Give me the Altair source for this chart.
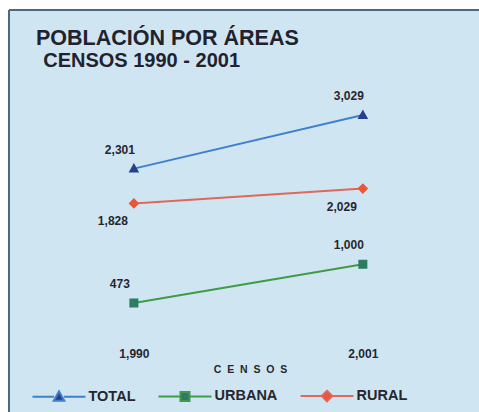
import altair as alt
import pandas as pd

# ---- data ----
censos = [1990, 2001]
areas = ["TOTAL", "URBANA", "RURAL"]
total = [2301, 3029]
urbana = [473, 1000]
rural = [1828, 2029]

# ---- styling ----
line_colors = ["#3f80cc", "#3f9b48", "#e0675a"]
marker_colors = ["#26408c", "#2d7b62", "#ec5535"]
marker_paths = [
    "M-1,0H-0.19M0.19,0H1M0,-0.21L0.2,0.15L-0.2,0.15Z",
    "M-1,0H-0.17M0.17,0H1M-0.17,-0.17H0.17V0.17H-0.17Z",
    "M-1,0H-0.2M0.2,0H1M0,-0.2L0.2,0L0,0.2L-0.2,0Z",
]
FONT = "Liberation Sans"
TXT = "#26262f"
BORDER = "#4d6a85"

rows = []
for area, vals in zip(areas, [total, urbana, rural]):
    for c, v in zip(censos, vals):
        rows.append({"Área": area, "Censo": c, "Valor": v})
df = pd.DataFrame(rows)

x = alt.X(
    "Censo:Q",
    scale=alt.Scale(domain=[1984, 2006.58], nice=False, zero=False),
    axis=alt.Axis(
        values=censos, labelExpr="format(datum.value, ',')",
        orient="bottom", offset=-70,
        domain=False, ticks=False, grid=False,
        labelFont=FONT, labelFontSize=12, labelFontWeight="bold",
        labelColor=TXT, labelPadding=6, labelFlush=False,
        title="C\u00a0\u00a0E\u00a0\u00a0N\u00a0\u00a0S\u00a0\u00a0O\u00a0\u00a0S",
        titleFont=FONT, titleFontSize=10.5, titleFontWeight="bold",
        titleColor=TXT, titleX=241, titleY=27, titleBaseline="middle",
        titleAlign="center",
    ),
)
y = alt.Y(
    "Valor:Q",
    scale=alt.Scale(domain=[-1009, 4458], nice=False, zero=False),
    axis=None,
)

stroke_scale = alt.Scale(domain=areas, range=line_colors)
fill_scale = alt.Scale(domain=areas, range=marker_colors)
shape_scale = alt.Scale(domain=areas, range=marker_paths)

legend = alt.Legend(
    orient="none", direction="horizontal", legendX=22.5, legendY=358.5,
    title=None, symbolSize=2809, symbolStrokeWidth=2, symbolOpacity=1,
    labelFont=FONT, labelFontSize=14.5, labelFontWeight="bold",
    labelColor=TXT, labelOffset=2, columnPadding=19, padding=0,
)

# frame of the scanned panel (top and left edges)
top_border = alt.Chart(df).mark_rule(color=BORDER, strokeWidth=1.5).encode(
    y=alt.value(0)
)
left_border = alt.Chart(df).mark_rule(color=BORDER, strokeWidth=1.5).encode(
    x=alt.value(0)
)

lines = alt.Chart(df).mark_line(strokeWidth=2).encode(
    x=x, y=y,
    stroke=alt.Stroke("Área:N", scale=stroke_scale, sort=areas, legend=legend),
)

points = alt.Chart(df).mark_point(filled=True, size=2809, strokeWidth=0, opacity=1).encode(
    x=x, y=y,
    shape=alt.Shape("Área:N", scale=shape_scale, sort=areas, legend=legend),
    fill=alt.Fill("Área:N", scale=fill_scale, sort=areas, legend=legend),
    stroke=alt.Stroke("Área:N", scale=stroke_scale, sort=areas, legend=legend),
)

labels_above = alt.Chart(df).transform_filter(
    alt.datum["Área"] != "RURAL"
).mark_text(font=FONT, fontSize=12, fontWeight="bold", color=TXT, dx=-14, dy=-19).encode(
    x=x, y=y, text=alt.Text("Valor:Q", format=",")
)

labels_below = alt.Chart(df).transform_filter(
    alt.datum["Área"] == "RURAL"
).mark_text(font=FONT, fontSize=12, fontWeight="bold", color=TXT, dx=-21, dy=18).encode(
    x=x, y=y, text=alt.Text("Valor:Q", format=",")
)

chart = alt.layer(
    top_border, left_border, lines, points, labels_above, labels_below
).properties(
    width=470, height=402,
    padding={"left": 9, "top": 10, "right": 0, "bottom": 0},
    autosize=alt.AutoSizeParams(type="none"),
    title=alt.TitleParams(
        text="POBLACIÓN POR ÁREAS",
        subtitle="\u200b\u00a0\u200aCENSOS 1990 - 2001",
        anchor="start", frame="group", orient="top", offset=0,
        dx=27, dy=62,
        font=FONT, fontSize=21.5, fontWeight="bold", color="#22222e",
        subtitleFont=FONT, subtitleFontSize=20, subtitleFontWeight="bold",
        subtitleColor="#22222e", subtitlePadding=2,
    ),
).configure(background="#ffffff").configure_view(
    fill="#cfe6f2", stroke=None
)

chart.save("out.html", embed_options={"renderer": "svg", "actions": False})
